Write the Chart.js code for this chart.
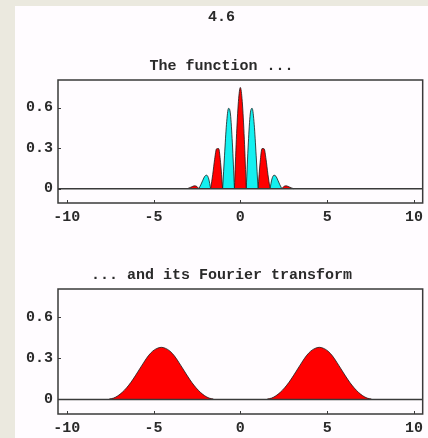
<!DOCTYPE html>
<html>
<head>
<meta charset="utf-8">
<script src="https://cdn.jsdelivr.net/npm/chart.js@4"></script>
<style>
  html, body { margin: 0; overflow: hidden; background: #ebe9df; }
  #panel { position: absolute; left: 15px; top: 6px; width: 413px; height: 432px; background: #fffcff; }
  canvas { position: absolute; left: 15px; }
  #fnChart { top: 6px; }
  #ftChart { top: 232px; }
</style>
</head>
<body>
<div id="panel"></div>
<canvas id="fnChart" width="413" height="225"></canvas>
<canvas id="ftChart" width="413" height="210"></canvas>
<script>
// frequency shown in the heading
var freqLabel = '4.6';

// the function, signed values (positive lobes red, negative lobes cyan)
var fnX = [-3.07, -2.96, -2.85, -2.73, -2.62, -2.50, -2.39, -2.28, -2.16, -2.05, -1.94, -1.82, -1.71, -1.59,
  -1.48, -1.37, -1.25, -1.14, -1.02, -0.91, -0.80, -0.68, -0.57, -0.46, -0.34, -0.23, -0.11, 0,
  0.11, 0.23, 0.34, 0.46, 0.57, 0.68, 0.80, 0.91, 1.02, 1.14, 1.25, 1.37, 1.48, 1.59, 1.71, 1.82,
  1.94, 2.05, 2.16, 2.28, 2.39, 2.50, 2.62, 2.73, 2.85, 2.96, 3.07];
var fnY = [0, 0.005, 0.011, 0.018, 0.021, 0.016, 0, -0.028, -0.063, -0.092, -0.100, -0.072, 0, 0.105,
  0.218, 0.295, 0.297, 0.196, 0, -0.248, -0.474, -0.595, -0.553, -0.339, 0, 0.366, 0.646, 0.75,
  0.646, 0.366, 0, -0.339, -0.553, -0.595, -0.474, -0.248, 0, 0.196, 0.297, 0.295, 0.218, 0.105, 0, -0.072,
  -0.100, -0.092, -0.063, -0.028, 0, 0.016, 0.021, 0.018, 0.011, 0.005, 0];

// its Fourier transform: two bumps
var ftLeftX = [-7.55, -7.3, -7.05, -6.8, -6.55, -6.3, -6.05, -5.8, -5.55, -5.3, -5.05, -4.8, -4.55,
  -4.3, -4.05, -3.8, -3.55, -3.3, -3.05, -2.8, -2.55, -2.3, -2.05, -1.8, -1.55];
var ftRightX = [1.55, 1.8, 2.05, 2.3, 2.55, 2.8, 3.05, 3.3, 3.55, 3.8, 4.05, 4.3, 4.55,
  4.8, 5.05, 5.3, 5.55, 5.8, 6.05, 6.3, 6.55, 6.8, 7.05, 7.3, 7.55];
var ftLeftY = [0.003, 0.010, 0.027, 0.052, 0.085, 0.125, 0.172, 0.222, 0.272, 0.318, 0.352, 0.372, 0.380,
  0.372, 0.352, 0.318, 0.272, 0.222, 0.172, 0.125, 0.085, 0.052, 0.027, 0.010, 0.003];
var ftRightY = [0.003, 0.010, 0.027, 0.052, 0.085, 0.125, 0.172, 0.222, 0.272, 0.318, 0.352, 0.372, 0.380,
  0.372, 0.352, 0.318, 0.272, 0.222, 0.172, 0.125, 0.085, 0.052, 0.027, 0.010, 0.003];

var xTicks = [-10, -5, 0, 5, 10];
var yTicks = [0, 0.3, 0.6];

var RED = '#ff0000';
var CYAN = '#14f0f0';
var INK = '#3a3a3a';

Chart.defaults.font.family = "'Liberation Mono', 'Courier New', monospace";
Chart.defaults.font.size = 15;
Chart.defaults.font.weight = 'bold';
Chart.defaults.color = '#2a2a2a';

function pts(xs, ys) {
  return xs.map(function (x, i) { return { x: x, y: ys[i] }; });
}

function area(data, colour) {
  return {
    data: data,
    backgroundColor: colour,
    borderColor: '#1a1a1a',
    borderWidth: 0.8,
    fill: 'origin',
    pointRadius: 0,
    cubicInterpolationMode: 'monotone'
  };
}

// cut the signed curve at its zeros; each lobe gets its own filled dataset
function lobes(xs, ys) {
  var out = [];
  var cur = [{ x: xs[0], y: 0 }];
  for (var i = 1; i < xs.length; i++) {
    cur.push({ x: xs[i], y: Math.abs(ys[i]) });
    if (ys[i] === 0) {
      if (cur.length > 2) out.push(area(cur, ys[i - 1] > 0 ? RED : CYAN));
      cur = [{ x: xs[i], y: 0 }];
    }
  }
  return out;
}

// frame, zero line and inward tick marks on left and bottom
var framePlugin = {
  id: 'frame',
  afterDatasetsDraw: function (chart) {
    var c = chart.ctx, a = chart.chartArea;
    var xs = chart.scales.x, ys = chart.scales.y;
    c.save();
    c.strokeStyle = INK;
    c.lineWidth = 1.5;
    var y0 = ys.getPixelForValue(0);
    c.beginPath();
    c.moveTo(a.left, y0);
    c.lineTo(a.right, y0);
    c.stroke();
    c.strokeRect(a.left, a.top, a.right - a.left, a.bottom - a.top);
    c.lineWidth = 1;
    c.beginPath();
    yTicks.forEach(function (v) {
      var p = Math.round(ys.getPixelForValue(v)) + 0.5;
      c.moveTo(a.left, p);
      c.lineTo(a.left + 3, p);
    });
    xTicks.forEach(function (v) {
      var p = Math.round(xs.getPixelForValue(v)) + 0.5;
      c.moveTo(p, a.bottom);
      c.lineTo(p, a.bottom - 3);
    });
    c.stroke();
    c.restore();
  }
};

function scales() {
  return {
    x: {
      type: 'linear', min: -10.5, max: 10.5,
      grid: { display: false, drawTicks: false },
      border: { display: false },
      afterBuildTicks: function (s) { s.ticks = xTicks.map(function (v) { return { value: v }; }); },
      ticks: { padding: 5, maxRotation: 0, callback: function (v) { return String(v); } }
    },
    y: {
      min: -0.106, max: 0.805,
      grid: { display: false, drawTicks: false },
      border: { display: false },
      afterBuildTicks: function (s) { s.ticks = yTicks.map(function (v) { return { value: v }; }); },
      afterFit: function (s) { s.width = 43; },
      ticks: { padding: 5, callback: function (v) { return v === 0 ? '0' : v.toFixed(1); } }
    }
  };
}

new Chart(document.getElementById('fnChart'), {
  type: 'line',
  data: { datasets: lobes(fnX, fnY) },
  options: {
    responsive: false,
    animation: false,
    layout: { padding: { right: 0, bottom: 0 } },
    plugins: {
      legend: { display: false },
      tooltip: { enabled: false },
      title: { display: true, text: freqLabel, padding: { top: 2, bottom: 22 }, font: { size: 15, weight: 'bold' } },
      subtitle: { display: true, text: 'The function ...', padding: { top: 9, bottom: 5 }, font: { size: 15, weight: 'bold' } }
    },
    scales: scales()
  },
  plugins: [framePlugin]
});

new Chart(document.getElementById('ftChart'), {
  type: 'line',
  data: {
    datasets: [
      area(pts(ftLeftX, ftLeftY), RED),
      area(pts(ftRightX, ftRightY), RED)
    ]
  },
  options: {
    responsive: false,
    animation: false,
    layout: { padding: { right: 0, bottom: 0 } },
    plugins: {
      legend: { display: false },
      tooltip: { enabled: false },
      title: { display: true, text: '... and its Fourier transform', padding: { top: 34, bottom: 5 }, font: { size: 15, weight: 'bold' } }
    },
    scales: scales()
  },
  plugins: [framePlugin]
});
</script>
</body>
</html>
